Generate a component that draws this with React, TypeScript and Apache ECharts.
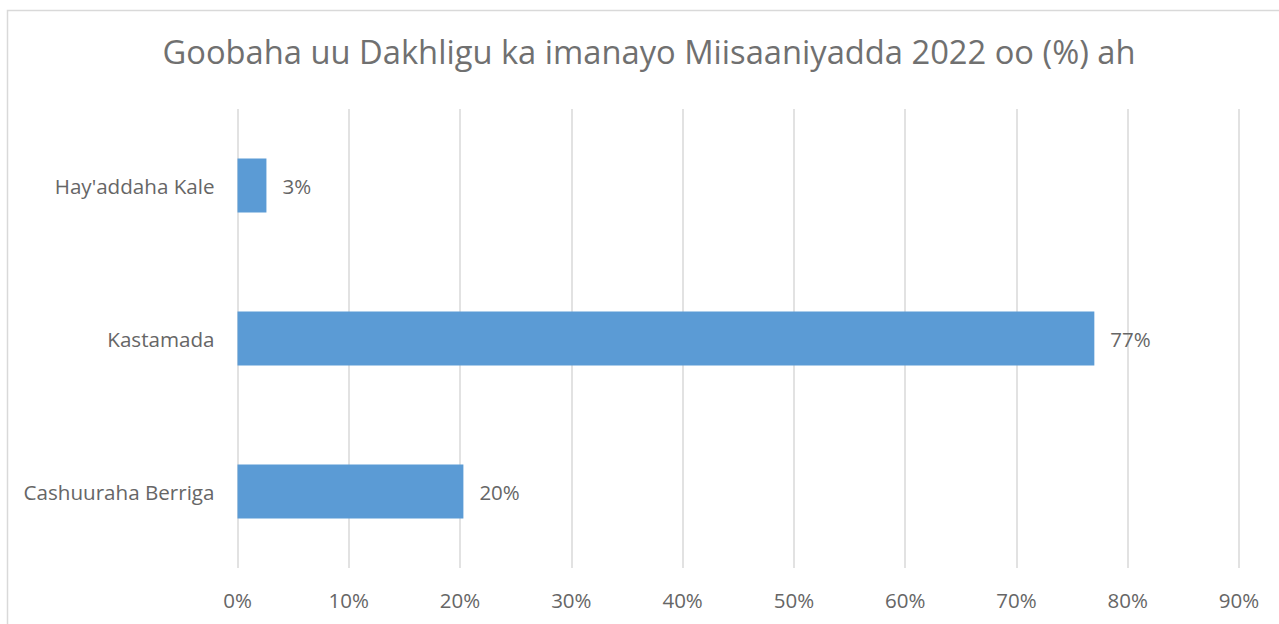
import React, { useEffect, useRef } from "react";
import * as echarts from "echarts";

const categories = ["Cashuuraha Berriga", "Kastamada", "Hay'addaha Kale"];
const values = [20.3, 77.0, 2.6];
const valueLabels = ["20%", "77%", "3%"];
const xTicks = { min: 0, max: 90, interval: 10 };
const titleText = "Goobaha uu Dakhligu ka imanayo Miisaaniyadda 2022 oo (%) ah";

export default function App() {
  const ref = useRef<HTMLDivElement>(null);
  useEffect(() => {
    if (!ref.current) return;
    const chart = echarts.init(ref.current, undefined, { renderer: "svg" });
    const font = "'Open Sans', sans-serif";
    chart.setOption({
      animation: false,
      backgroundColor: "#ffffff",
      title: {
        text: titleText,
        left: 644,
        top: 30,
        textAlign: "center",
        textStyle: { fontFamily: font, fontSize: 32.7, fontWeight: "normal", color: "#707070" },
      },
      graphic: [
        {
          type: "rect",
          shape: { x: 7.5, y: 10.5, width: 1300, height: 700 },
          style: { fill: "none", stroke: "#d9d9d9", lineWidth: 1.5 },
          silent: true,
          z: -1,
        },
      ],
      grid: { left: 237.5, right: 40, top: 109, bottom: 56, containLabel: false },
      xAxis: {
        type: "value",
        min: xTicks.min,
        max: xTicks.max,
        interval: xTicks.interval,
        axisLine: { show: false },
        axisTick: { show: false },
        splitLine: { show: true, lineStyle: { color: "#d9d9d9", width: 1.5 } },
        axisLabel: {
          formatter: (v: number) => `${v}%`,
          color: "#666666",
          fontFamily: font,
          fontSize: 20.5,
          margin: 21,
        },
      },
      yAxis: {
        type: "category",
        data: categories,
        axisLine: { show: false },
        axisTick: { show: false },
        axisLabel: { color: "#666666", fontFamily: font, fontSize: 20.6, margin: 23 },
      },
      series: [
        {
          type: "bar",
          data: values,
          barWidth: 54,
          itemStyle: { color: "#5b9bd5" },
          label: {
            show: true,
            position: "right",
            distance: 16,
            color: "#666666",
            fontFamily: font,
            fontSize: 20.5,
            formatter: (p: any) => valueLabels[p.dataIndex],
          },
        },
      ],
    });
    return () => chart.dispose();
  }, []);
  return (
    <div
      ref={ref}
      style={{ position: "fixed", left: 0, top: 0, width: 1279, height: 624 }}
    />
  );
}
